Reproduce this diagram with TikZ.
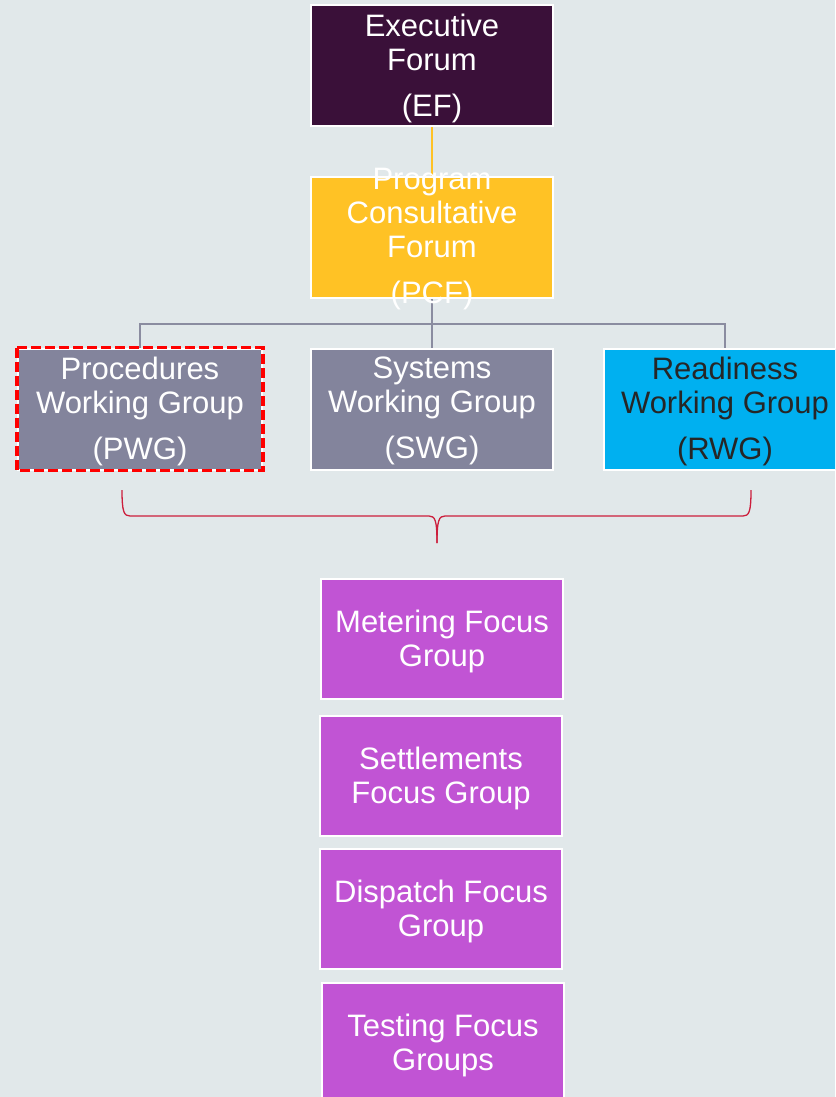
\documentclass[tikz,border=0pt]{standalone}
\usepackage{fontspec}
\setmainfont{Liberation Sans}
\definecolor{bgcol}{HTML}{E1E8EA}
\definecolor{efcol}{HTML}{3A1039}
\definecolor{pcfcol}{HTML}{FFC225}
\definecolor{wgcol}{HTML}{83849C}
\definecolor{rwgcol}{HTML}{00B0F0}
\definecolor{fgcol}{HTML}{C154D4}
\definecolor{treecol}{HTML}{8A8CA0}
\definecolor{bracecol}{HTML}{CC1E3C}
\begin{document}
\begin{tikzpicture}[x=1pt,y=-1pt,
    box/.style={draw=white, line width=2pt, minimum width=242pt, minimum height=121pt, inner sep=0pt},
    boxtext/.style={align=center, text=white, inner sep=0pt, yshift=-2pt, font=\fontsize{31}{34}\selectfont},
    tree/.style={treecol, line width=2.5pt},
    brace/.style={bracecol, line width=1.3pt}]
    % background
    \fill[bgcol] (0,0) rectangle (835,1097);
    \useasboundingbox (0,0) rectangle (835,1097);
    \clip (0,0) rectangle (835,1097);

    % forums
    \node[box, fill=efcol, label={[boxtext]center:{Executive\\Forum\\[12pt](EF)}}] (ef) at (432,66) {};
    \draw[pcfcol, line width=2pt] (ef.south) -- ++(0,52) coordinate (efend);
    \node[box, fill=pcfcol] (pcf) at (432,237.5) {};

    %% tree to working groups
    \node[box, fill=wgcol, minimum width=244pt, label={[boxtext]center:{Procedures\\Working Group\\[12pt](PWG)}}] (pwg) at (140,409) {};
    \node[box, fill=wgcol, label={[boxtext]center:{Systems\\Working Group\\[12pt](SWG)}}] (swg) at (432,409) {};
    \node[box, fill=rwgcol, label={[boxtext, text=black!85]center:{Readiness\\Working Group\\[12pt](RWG)}}] (rwg) at (725,409) {};
    \draw[tree] (pcf.south) -- ++(0,25) coordinate (fork) -| (pwg.north);
    \draw[tree] (fork) -| (rwg.north);
    \draw[tree] (fork) -- (swg.north);
    \draw[red, line width=3.5pt, dash pattern=on 10pt off 4pt] (pwg.north west) rectangle (pwg.south east);
    \node[boxtext] (pcftext) at (pcf.center) {Program\\Consultative\\Forum\\[12pt](PCF)};

    % brace
    \coordinate (bl) at (122,490);
    \coordinate (br) at (751,490);
    \coordinate (btip) at (437,543);
    \draw[brace] (bl) .. controls (122,512) and (124,516) .. (130,516) -- (429,516)
        .. controls (435,516) and (437,520) .. (btip);
    \draw[brace] (br) .. controls (751,512) and (749,516) .. (743,516) -- (445,516)
        .. controls (439,516) and (437,520) .. (btip);

    % focus groups
    \node[box, fill=fgcol, minimum height=120pt, label={[boxtext]center:{Metering Focus\\Group}}] (mfg) at (442,639) {};
    \node[box, fill=fgcol, minimum height=120pt, label={[boxtext]center:{Settlements\\Focus Group}}] (sfg) at (441,776) {};
    \node[box, fill=fgcol, minimum height=120pt, label={[boxtext]center:{Dispatch Focus\\Group}}] (dfg) at (441,909) {};
    \node[box, fill=fgcol, minimum height=120pt, label={[boxtext]center:{Testing Focus\\Groups}}] (tfg) at (443,1043) {};
\end{tikzpicture}
\end{document}
